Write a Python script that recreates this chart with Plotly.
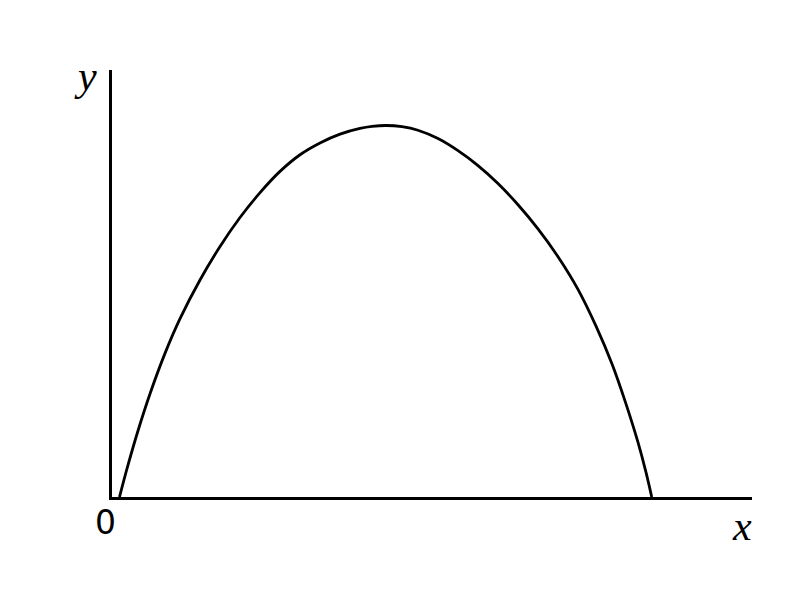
import plotly.graph_objects as go

# Curve points (data units)
curve_x = [0.117, 0.242, 0.398, 0.594, 0.828, 1.063, 1.375, 1.688, 2.000, 2.313,
           2.625, 2.938, 3.250, 3.563, 3.875, 4.063, 4.281, 4.531, 4.781, 5.094,
           5.406, 5.719, 6.031, 6.344, 6.656, 6.969, 7.281, 7.563, 7.813, 8.031,
           8.219, 8.344, 8.433]
curve_y = [0.0, 0.470, 1.008, 1.613, 2.244, 2.786, 3.391, 3.914, 4.367, 4.756,
           5.088, 5.348, 5.532, 5.670, 5.759, 5.791, 5.805, 5.786, 5.730, 5.600,
           5.411, 5.178, 4.898, 4.567, 4.190, 3.755, 3.245, 2.670, 2.078, 1.456,
           0.853, 0.384, 0.0]

x_range = [0, 10]
y_range = [0, 6.672]

fig = go.Figure()
fig.add_trace(go.Scatter(
    x=curve_x, y=curve_y, mode="lines",
    line=dict(color="black", width=2.8, shape="spline", smoothing=1.0),
    hoverinfo="skip", showlegend=False,
))

fig.update_layout(
    width=800, height=600,
    margin=dict(l=104, r=56, t=62, b=111),
    paper_bgcolor="white", plot_bgcolor="white",
    xaxis=dict(range=x_range, showline=True, linecolor="black", linewidth=2.8,
               showgrid=False, zeroline=False, showticklabels=False, ticks=""),
    yaxis=dict(range=y_range, showline=True, linecolor="black", linewidth=2.8,
               showgrid=False, zeroline=False, showticklabels=False, ticks=""),
    annotations=[
        dict(text="<i>y</i>", xref="paper", yref="paper", x=-0.041, y=0.985,
             xanchor="center", yanchor="middle", showarrow=False,
             font=dict(family="Liberation Serif", size=42, color="black")),
        dict(text="<i>x</i>", xref="paper", yref="paper", x=0.985, y=-0.067,
             xanchor="center", yanchor="middle", showarrow=False,
             font=dict(family="Liberation Serif", size=42, color="black")),
        dict(text="0", xref="paper", yref="paper", x=-0.010, y=-0.06,
             xanchor="center", yanchor="middle", showarrow=False,
             font=dict(family="DejaVu Sans", size=33, color="black")),
    ],
)

fig.write_html("out.html")
